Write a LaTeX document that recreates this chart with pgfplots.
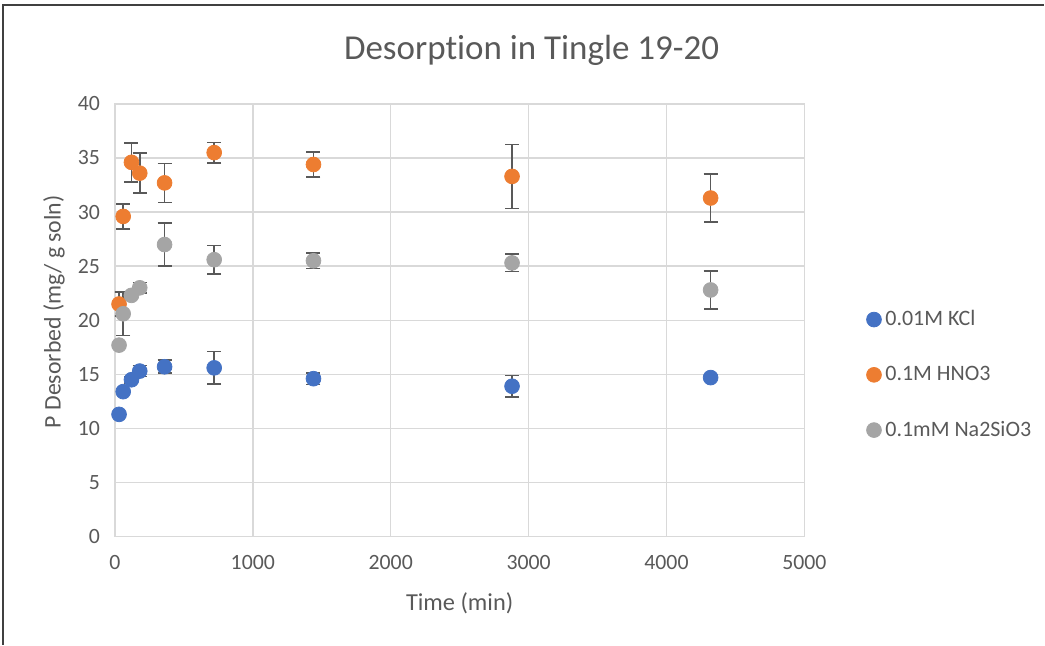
\documentclass[border=0pt]{standalone}
\usepackage{fontspec}
\setmainfont{Carlito}[Ligatures=NoCommon]
\usepackage{pgfplots}
\pgfplotsset{compat=1.18}
\usepackage{pgfplotstable}

% colores de Excel
\definecolor{cKCl}{HTML}{4472C4}
\definecolor{cHNO}{HTML}{ED7D31}
\definecolor{cNa}{HTML}{A5A5A5}
\definecolor{cGrid}{HTML}{D9D9D9}
\definecolor{cText}{HTML}{595959}
\definecolor{cErr}{HTML}{595959}

% datos: x (min), y, error
\pgfplotstableread{
x y e
30 11.3 0
60 13.4 0
120 14.5 0.3
180 15.3 0.5
360 15.7 0.6
720 15.6 1.5
1440 14.6 0.55
2880 13.9 1.0
4320 14.7 0
}\kcl
\pgfplotstableread{
x y e
30 21.5 1.1
60 29.6 1.15
120 34.6 1.8
180 33.6 1.85
360 32.7 1.8
720 35.5 0.95
1440 34.4 1.15
2880 33.3 2.95
4320 31.3 2.2
}\hno
\pgfplotstableread{
x y e
30 17.7 0
60 20.6 2.0
120 22.3 0.3
180 23.0 0.5
360 27.0 2.0
720 25.6 1.3
1440 25.5 0.7
2880 25.3 0.8
4320 22.8 1.75
}\nasi

\begin{document}
\begin{tikzpicture}
\path (0,0) rectangle (522.5bp,322.5bp);
% marco del área del gráfico
\draw[color=black!75, line width=0.8bp] (1.5bp,0) -- (1.5bp,320bp) -- (522.5bp,320bp);

\begin{axis}[
    at={(57.5bp,54bp)}, anchor=south west,
    scale only axis,
    width=345bp, height=216.5bp,
    xmin=0, xmax=5000, ymin=0, ymax=40,
    xtick={0,1000,...,5000},
    ytick={0,5,...,40},
    grid=major,
    grid style={color=cGrid, line width=0.7bp},
    axis line style={color=cGrid, line width=0.7bp},
    major tick length=0pt,
    tick label style={font=\fontsize{10.9bp}{13bp}\selectfont, color=cText},
    /pgf/number format/assume math mode=true,
    /pgf/number format/1000 sep={},
    yticklabel style={xshift=-4bp},
    xticklabel style={yshift=-6bp},
    legend style={
        at={(1.081,0.374)}, anchor=west,
        draw=none, fill=none,
        font=\fontsize{11bp}{13bp}\selectfont,
        text=cText,
        row sep=14.8bp,
        cells={anchor=west},
    },
    legend image code/.code={\draw[#1] plot coordinates {(0.12cm,0cm)};},
    every axis plot/.append style={
        only marks, mark=*, mark size=3.7bp,
        error bars/y dir=both, error bars/y explicit,
        error bars/error mark=|,
        error bars/error bar style={color=cErr, line width=0.8bp},
        error bars/error mark options={color=cErr, mark size=3.5bp, line width=0.8bp},
    },
]
\addplot[cKCl, mark options={draw=cKCl, fill=cKCl}] table[x=x, y=y, y error=e] {\kcl};
\addlegendentry{0.01M KCl}
\addplot[cHNO, mark options={draw=cHNO, fill=cHNO}] table[x=x, y=y, y error=e] {\hno};
\addlegendentry{0.1M HNO3}
\addplot[cNa, mark options={draw=cNa, fill=cNa}] table[x=x, y=y, y error=e] {\nasi};
\addlegendentry{0.1mM Na2SiO3}
\end{axis}

% título y rótulos de ejes
\node[font=\fontsize{17.5bp}{21bp}\selectfont, text=cText] at (266bp,297.5bp) {Desorption in Tingle 19-20};
\node[font=\fontsize{12.2bp}{14bp}\selectfont, text=cText] at (230bp,20.5bp) {Time (min)};
\node[font=\fontsize{11.9bp}{14bp}\selectfont, text=cText, rotate=90] at (27bp,166.5bp) {P Desorbed (mg/ g soln)};
\end{tikzpicture}
\end{document}
